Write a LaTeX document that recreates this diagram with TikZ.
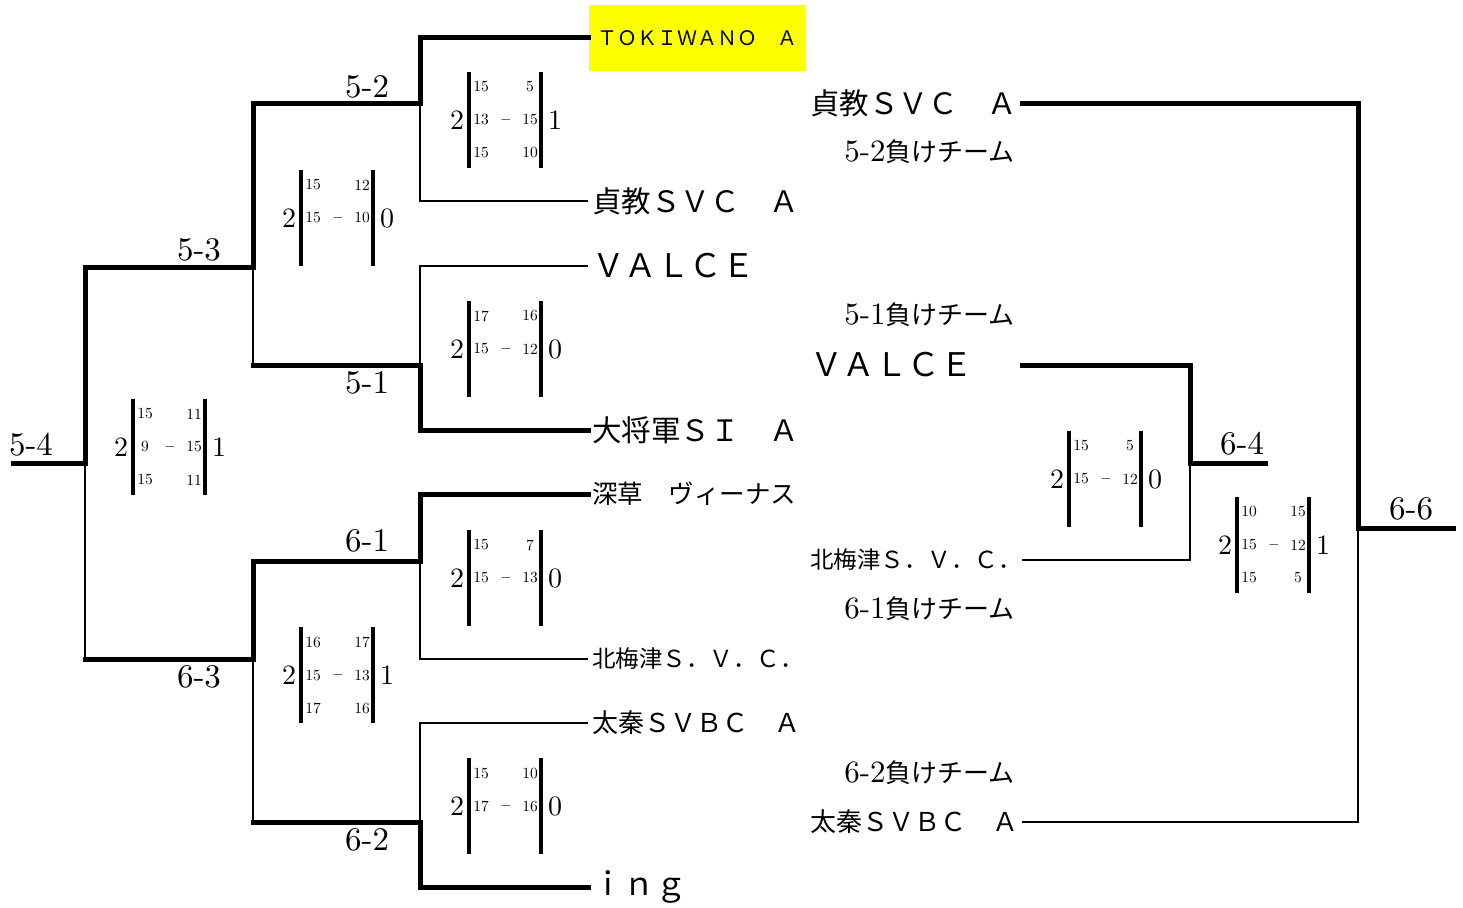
\documentclass[tikz,border=0pt]{standalone}
\usepackage{fontspec}
\setmainfont{lmroman10-regular.otf}
\newfontfamily\jp{Noto Sans CJK JP}
\definecolor{hl}{RGB}{255,255,0}
\newcommand\scorebox[5]{%
  \coordinate (#1p) at (#2-36,#3-48);
  \coordinate (#1q) at (#2-36,#3+48);
  \coordinate (#1r) at (#2+36,#3-48);
  \coordinate (#1s) at (#2+36,#3+48);
  \draw[bar] (#1p) -- (#1q);
  \draw[bar] (#1r) -- (#1s);
  \node[bignum] (#1L) at (#2-48,#3) {#4};
  \node[bignum] (#1R) at (#2+50,#3) {#5};
}
\newcommand\srow[5]{%
  \node[smallnum] (#1a) at (#2-24,#3) {#4};
  \node[smallnum] (#1b) at (#2+25,#3) {#5};
}
\newcommand\sdash[3]{\node[smallnum] (#1d) at (#2+1,#3) {$-$};}
\newcommand\lostto[1]{{\fontsize{31}{33}\selectfont #1}{\jp\fontsize{26}{28}\selectfont 負けチーム}}
\begin{document}
\begin{tikzpicture}[x=1pt,y=-1pt,
  wl/.style={line width=5pt,line cap=rect},
  nl/.style={line width=2pt},
  bar/.style={line width=3.5pt},
  bignum/.style={inner sep=0pt,font=\fontsize{28}{30}\selectfont},
  smallnum/.style={inner sep=0pt,font=\fontsize{15.5}{17}\selectfont},
  rnd/.style={inner sep=0pt,font=\fontsize{33}{35}\selectfont},
  team/.style={anchor=west,inner xsep=4pt,inner ysep=0pt},
  lose/.style={anchor=east,inner sep=0pt}]
\useasboundingbox (0,0) rectangle (1463,907);
\fill[white] (0,0) rectangle (1463,907);

% team nodes, left
\node[fill=hl,minimum width=216pt,minimum height=65pt,inner sep=0pt,font=\jp\fontsize{20}{22}\selectfont] (tA) at (697,38) {ＴＯＫＩＷＡＮＯ　Ａ};
\node[team,font=\jp\fontsize{29.5}{31}\selectfont] (t2) at (588,201) {貞教ＳＶＣ　Ａ};
\node[team,font=\jp\fontsize{32.5}{34}\selectfont] (t3) at (588,266) {ＶＡＬＣＥ};
\node[team,font=\jp\fontsize{29.5}{31}\selectfont] (t4) at (588,430) {大将軍ＳＩ　Ａ};
\node[team,font=\jp\fontsize{25.5}{27}\selectfont] (t5) at (588,494) {深草　ヴィーナス};
\node[team,font=\jp\fontsize{23.5}{25}\selectfont] (t6) at (588,659) {北梅津Ｓ．Ｖ．Ｃ．};
\node[team,font=\jp\fontsize{26}{28}\selectfont] (t7) at (588,723) {太秦ＳＶＢＣ　Ａ};
\node[team,font=\jp\fontsize{31.5}{33}\selectfont] (t8) at (588,887) {ｉｎｇ};

% right side
\node[team,font=\jp\fontsize{29.5}{31}\selectfont] (u1) at (806,103) {貞教ＳＶＣ　Ａ};
\node[lose] (u2) at (1015,152) {\lostto{5-2}};
\node[lose] (u3) at (1015,315) {\lostto{5-1}};
\node[team,font=\jp\fontsize{32.5}{34}\selectfont] (u4) at (806,365) {ＶＡＬＣＥ};
\node[team,font=\jp\fontsize{23.5}{25}\selectfont] (u5) at (806,560) {北梅津Ｓ．Ｖ．Ｃ．};
\node[lose] (u6) at (1015,609) {\lostto{6-1}};
\node[lose] (u7) at (1015,773) {\lostto{6-2}};
\node[team,font=\jp\fontsize{26}{28}\selectfont] (u8) at (806,822) {太秦ＳＶＢＣ　Ａ};

% junctions
\coordinate (r54) at (13,463);
\coordinate (j54) at (85,463);
\coordinate (j54t) at (85,267);
\coordinate (j54b) at (85,659);
\coordinate (j53) at (253,267);
\coordinate (j53t) at (253,103);
\coordinate (j53b) at (253,365);
\coordinate (j52) at (420,103);
\coordinate (j52t) at (420,38);
\coordinate (j52b) at (420,201);
\coordinate (j51) at (420,365);
\coordinate (j51t) at (420,266);
\coordinate (j51b) at (420,430);
\coordinate (j63) at (253,659);
\coordinate (j63t) at (253,561);
\coordinate (j63b) at (253,822);
\coordinate (j61) at (420,561);
\coordinate (j61t) at (420,494);
\coordinate (j61b) at (420,659);
\coordinate (j62) at (420,822);
\coordinate (j62t) at (420,723);
\coordinate (j62b) at (420,887);

\coordinate (k1s) at (1022,103);
\coordinate (k1) at (1358,103);
\coordinate (k66) at (1358,528);
\coordinate (k66e) at (1453,528);
\coordinate (k2) at (1358,822);
\coordinate (k2s) at (1022,822);
\coordinate (v1s) at (1022,365);
\coordinate (v1) at (1190,365);
\coordinate (k64) at (1190,463);
\coordinate (k64e) at (1265,463);
\coordinate (v2) at (1190,560);
\coordinate (v2s) at (1022,560);

% bracket lines
\draw[wl] (r54) -- (j54) -- (j54t) -- (j53) -- (j53t) -- (j52) -- (j52t) -- (tA.west);
\draw[nl] (j52) -- (j52b) -- (t2.west);
\draw[nl] (j53) -- (j53b);
\draw[wl] (j53b) -- (j51) -- (j51b) -- (t4.west);
\draw[nl] (j51) -- (j51t) -- (t3.west);
\draw[nl] (j54) -- (j54b);
\draw[wl] (j54b) -- (j63) -- (j63t) -- (j61) -- (j61t) -- (t5.west);
\draw[nl] (j61) -- (j61b) -- (t6.west);
\draw[nl] (j63) -- (j63b);
\draw[wl] (j63b) -- (j62) -- (j62b) -- (t8.west);
\draw[nl] (j62) -- (j62t) -- (t7.west);

\draw[wl] (k1s) -- (k1) -- (k66) -- (k66e);
\draw[nl] (k66) -- (k2) -- (k2s);
\draw[wl] (v1s) -- (v1) -- (k64) -- (k64e);
\draw[nl] (k64) -- (v2) -- (v2s);

% round labels
\node[rnd] (l54) at (31,445) {5-4};
\node[rnd] (l53) at (199,250) {5-3};
\node[rnd] (l52) at (367,87) {5-2};
\node[rnd] (l51) at (367,383) {5-1};
\node[rnd] (l61) at (367,541) {6-1};
\node[rnd] (l63) at (199,677) {6-3};
\node[rnd] (l62) at (367,840) {6-2};
\node[rnd] (l64) at (1242,444) {6-4};
\node[rnd] (l66) at (1411,509) {6-6};

% scores
\scorebox{s52}{505}{120}{2}{1}
\srow{s52x}{505}{87}{15}{5}
\srow{s52y}{505}{120}{13}{15}
\sdash{s52y}{505}{120}
\srow{s52z}{505}{153}{15}{10}

\scorebox{s53}{337}{218}{2}{0}
\srow{s53x}{337}{185}{15}{12}
\srow{s53y}{337}{218}{15}{10}
\sdash{s53y}{337}{218}

\scorebox{s54}{169}{447}{2}{1}
\srow{s54x}{169}{414}{15}{11}
\srow{s54y}{169}{447}{9}{15}
\sdash{s54y}{169}{447}
\srow{s54z}{169}{480}{15}{11}

\scorebox{s51}{505}{349}{2}{0}
\srow{s51x}{505}{316}{17}{16}
\srow{s51y}{505}{349}{15}{12}
\sdash{s51y}{505}{349}

\scorebox{s61}{505}{578}{2}{0}
\srow{s61x}{505}{545}{15}{7}
\srow{s61y}{505}{578}{15}{13}
\sdash{s61y}{505}{578}

\scorebox{s63}{337}{675}{2}{1}
\srow{s63x}{337}{642}{16}{17}
\srow{s63y}{337}{675}{15}{13}
\sdash{s63y}{337}{675}
\srow{s63z}{337}{708}{17}{16}

\scorebox{s62}{505}{806}{2}{0}
\srow{s62x}{505}{773}{15}{10}
\srow{s62y}{505}{806}{17}{16}
\sdash{s62y}{505}{806}

\scorebox{s64}{1105}{479}{2}{0}
\srow{s64x}{1105}{446}{15}{5}
\srow{s64y}{1105}{479}{15}{12}
\sdash{s64y}{1105}{479}

\scorebox{s66}{1273}{545}{2}{1}
\srow{s66x}{1273}{512}{10}{15}
\srow{s66y}{1273}{545}{15}{12}
\sdash{s66y}{1273}{545}
\srow{s66z}{1273}{578}{15}{5}
\end{tikzpicture}
\end{document}
